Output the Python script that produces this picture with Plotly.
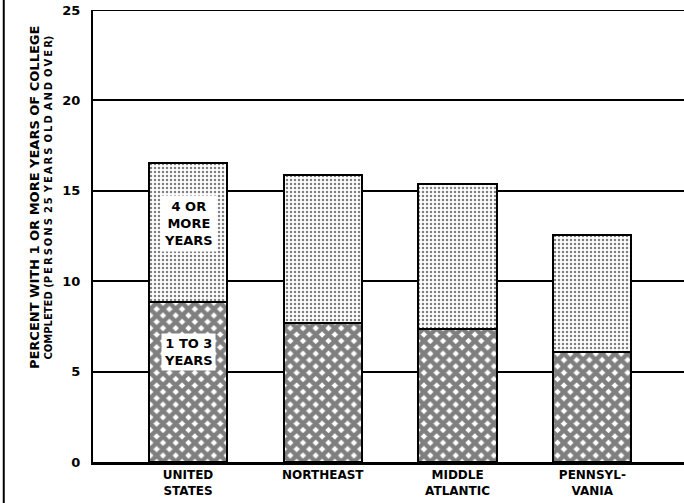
import plotly.graph_objects as go

categories = ["UNITED<br>STATES", "NORTHEAST", "MIDDLE<br>ATLANTIC", "PENNSYL-<br>VANIA"]
one_to_three_years = [8.85, 7.7, 7.35, 6.1]
four_or_more_years = [7.7, 8.15, 8.05, 6.45]
y_ticks = [0, 5, 10, 15, 20, 25]

FONT = "DejaVu Sans"
x_pos = list(range(len(categories)))


def spaced(word):
    return "\u2009".join(word)


subtitle = "COMPLETED " + "(" + "\u2002".join(
    spaced(w) for w in ["PERSONS", "25", "YEARS", "OLD", "AND", "OVER"]) + ")"

fig = go.Figure()
fig.add_trace(go.Bar(
    x=x_pos, y=one_to_three_years, width=0.58,
    marker=dict(color="white", line=dict(color="black", width=2),
                pattern=dict(shape="x", fgcolor="black", bgcolor="white",
                             size=9, solidity=0.75)),
    showlegend=False,
))
fig.add_trace(go.Bar(
    x=x_pos, y=four_or_more_years, width=0.58,
    marker=dict(color="white", line=dict(color="black", width=2),
                pattern=dict(shape=".", fgcolor="black", bgcolor="white",
                             size=4, solidity=0.3)),
    showlegend=False,
))

# in-bar labels on the first bar
fig.add_annotation(x=0, y=13.2, text="<b>4 OR<br>MORE<br>YEARS</b>", showarrow=False,
                   bgcolor="white", borderpad=3,
                   font=dict(family=FONT, size=13, color="black"))
fig.add_annotation(x=0, y=6.1, text="<b>1 TO 3<br>YEARS</b>", showarrow=False,
                   bgcolor="white", borderpad=2,
                   font=dict(family=FONT, size=13, color="black"))

# y-axis title (two lines)
fig.add_annotation(xref="paper", yref="paper", x=-0.099, y=0.585, xanchor="center",
                   text="<b>PERCENT WITH 1 OR MORE YEARS OF COLLEGE</b>",
                   textangle=-90, showarrow=False,
                   font=dict(family=FONT, size=13, color="black"))
fig.add_annotation(xref="paper", yref="paper", x=-0.0745, y=0.585, xanchor="center",
                   text=f"<b>{subtitle}</b>",
                   textangle=-90, showarrow=False,
                   font=dict(family=FONT, size=10, color="black"))

# left frame line and top gridline
fig.add_shape(type="line", xref="paper", yref="paper", x0=-0.151, x1=-0.151,
              y0=-0.1, y1=1.03, line=dict(color="black", width=2))
fig.add_shape(type="line", xref="paper", yref="y", x0=0, x1=1, y0=25, y1=25,
              line=dict(color="black", width=2), layer="below")

fig.update_layout(
    width=684, height=503,
    margin=dict(l=93, r=0, t=10, b=41),
    barmode="stack",
    bargap=0,
    plot_bgcolor="white",
    paper_bgcolor="white",
    font=dict(family=FONT, color="black"),
    xaxis=dict(range=[-0.705, 3.68], tickvals=x_pos, ticktext=[f"<b>{c}</b>" for c in categories],
               showgrid=False, zeroline=False, showline=True, linecolor="black", linewidth=3,
               ticks="", automargin=False, tickfont=dict(size=12, family=FONT)),
    yaxis=dict(range=[0, 25], tickvals=y_ticks, ticktext=[f"<b>{t}</b>" for t in y_ticks],
               showgrid=True, gridcolor="black", gridwidth=1.5, zeroline=False,
               showline=True, linecolor="black", linewidth=2, ticks="", automargin=False,
               ticklabelstandoff=8, tickfont=dict(size=13, family=FONT)),
)

# page body has a default 8px margin; remove it so the figure fills the window
fig.write_html("out.html", config={"displayModeBar": False},
               post_script="document.body.style.margin='0';document.body.style.overflow='hidden';")
